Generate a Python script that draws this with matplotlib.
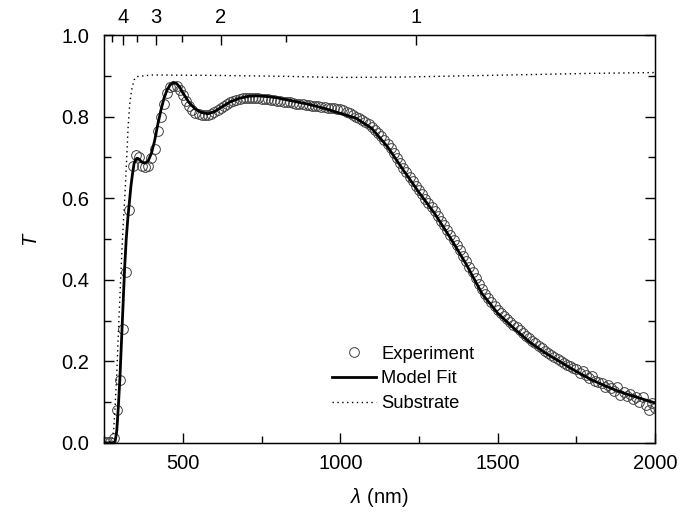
import numpy as np
import matplotlib
matplotlib.use("Agg")
import matplotlib.pyplot as plt
from matplotlib.ticker import MultipleLocator, FormatStrFormatter

plt.rcParams["font.family"] = ["Liberation Sans", "DejaVu Sans"]
plt.rcParams["mathtext.fontset"] = "custom"
plt.rcParams["mathtext.it"] = "Liberation Sans:italic"

# ---------------------------------------------------------------------------
# Data
# ---------------------------------------------------------------------------

# experiment: one point every 10 nm, 250..2000 nm
exp_wl = np.arange(250, 2001, 10)
exp_T = [
    0.003, 0.002, 0.003, 0.012, 0.080, 0.155, 0.280, 0.420, 0.570, 0.680,   # 250-340
    0.705, 0.700, 0.680, 0.676, 0.679, 0.698, 0.720, 0.765, 0.800, 0.830,   # 350-440
    0.857, 0.872, 0.876, 0.874, 0.866, 0.852, 0.838, 0.826, 0.816, 0.810,   # 450-540
    0.806, 0.804, 0.803, 0.804, 0.807, 0.811, 0.816, 0.822, 0.827, 0.831,   # 550-640
    0.835, 0.838, 0.841, 0.843, 0.845, 0.846, 0.846, 0.846, 0.846, 0.845,   # 650-740
    0.844, 0.843, 0.842, 0.841, 0.840, 0.839, 0.838, 0.837, 0.836, 0.835,   # 750-840
    0.833, 0.832, 0.831, 0.830, 0.829, 0.828, 0.827, 0.826, 0.825, 0.824,   # 850-940
    0.823, 0.822, 0.821, 0.820, 0.819, 0.818, 0.815, 0.812, 0.809, 0.805,   # 950-1040
    0.800, 0.797, 0.792, 0.787, 0.781, 0.775, 0.767, 0.759, 0.752, 0.743,   # 1050-1140
    0.733, 0.722, 0.710, 0.699, 0.687, 0.675, 0.664, 0.653, 0.642, 0.631,   # 1150-1240
    0.620, 0.610, 0.599, 0.589, 0.578, 0.568, 0.557, 0.545, 0.534, 0.522,   # 1250-1340
    0.510, 0.498, 0.485, 0.472, 0.459, 0.446, 0.432, 0.418, 0.404, 0.390,   # 1350-1440
    0.377, 0.366, 0.355, 0.345, 0.336, 0.327, 0.319, 0.311, 0.304, 0.297,   # 1450-1540
    0.290, 0.283, 0.276, 0.269, 0.262, 0.256, 0.250, 0.244, 0.238, 0.232,   # 1550-1640
    0.226, 0.221, 0.216, 0.211, 0.206, 0.201, 0.197, 0.192, 0.188, 0.183,   # 1650-1740
    0.180, 0.172, 0.176, 0.166, 0.160, 0.163, 0.152, 0.150, 0.147, 0.138,   # 1750-1840
    0.142, 0.134, 0.128, 0.136, 0.118, 0.125, 0.115, 0.120, 0.108, 0.113,   # 1850-1940
    0.100, 0.112, 0.092, 0.080, 0.098, 0.085,                               # 1950-2000
]

fit_wl = [250, 280, 285, 290, 295, 300, 305, 310, 315, 320, 325, 330, 335, 340,
          345, 350, 355, 360, 370, 380, 390, 400, 410, 420, 430, 440, 450, 460,
          470, 480, 490, 500, 520, 540, 560, 580, 600, 620, 650, 680, 710, 740,
          770, 800, 850, 900, 950, 1000, 1050, 1100, 1150, 1200, 1250, 1300,
          1350, 1400, 1450, 1500, 1550, 1600, 1650, 1700, 1750, 1800, 1850,
          1900, 1950, 2000]
fit_T = [0.0, 0.0, 0.005, 0.030, 0.090, 0.160, 0.250, 0.340, 0.430, 0.500,
         0.550, 0.590, 0.630, 0.660, 0.685, 0.695, 0.698, 0.696, 0.688, 0.686,
         0.692, 0.710, 0.740, 0.780, 0.815, 0.845, 0.866, 0.878, 0.883, 0.881,
         0.872, 0.858, 0.834, 0.818, 0.810, 0.807, 0.812, 0.822, 0.836, 0.845,
         0.850, 0.851, 0.849, 0.846, 0.838, 0.830, 0.820, 0.808, 0.796, 0.771,
         0.726, 0.669, 0.614, 0.562, 0.502, 0.438, 0.366, 0.318, 0.282, 0.248,
         0.221, 0.198, 0.175, 0.154, 0.137, 0.122, 0.110, 0.098]

sub_wl = [250, 270, 275, 280, 284, 290, 295, 300, 305, 310, 316, 321, 326, 331,
          337, 345, 353, 400, 600, 800, 1000, 1200, 1400, 1600, 1800, 2000]
sub_T = [0.0, 0.003, 0.010, 0.030, 0.080, 0.170, 0.270, 0.360, 0.450, 0.530,
         0.610, 0.690, 0.775, 0.830, 0.865, 0.890, 0.898, 0.902, 0.901, 0.899,
         0.896, 0.897, 0.900, 0.903, 0.906, 0.908]

# top axis: photon energy (eV)
energy_major = [1, 2, 3, 4]
energy_minor = [1.5, 2.5, 3.5, 4.5]

# ---------------------------------------------------------------------------
# Plot
# ---------------------------------------------------------------------------

fig = plt.figure(figsize=(6.81, 5.15), dpi=100)
ax = fig.add_axes([0.153, 0.140, 0.809, 0.792])

ax.plot(exp_wl, exp_T, linestyle="none", marker="o", markersize=7,
        markerfacecolor="none", markeredgecolor="#404040", markeredgewidth=0.7,
        label="Experiment")
ax.plot(fit_wl, fit_T, color="black", linewidth=2.0, label="Model Fit")
ax.plot(sub_wl, sub_T, color="black", linewidth=1.0, linestyle=(0, (1, 2.5)),
        label="Substrate")

ax.set_xlim(250, 2000)
ax.set_ylim(0, 1.0)
ax.xaxis.set_major_locator(MultipleLocator(500))
ax.xaxis.set_minor_locator(MultipleLocator(250))
ax.yaxis.set_major_locator(MultipleLocator(0.2))
ax.yaxis.set_minor_locator(MultipleLocator(0.1))
ax.yaxis.set_major_formatter(FormatStrFormatter("%.1f"))
ax.tick_params(which="both", direction="in", right=True, labelsize=14.5, width=1.0)
ax.tick_params(which="major", length=7)
ax.tick_params(which="minor", length=5)
ax.tick_params(axis="x", which="major", pad=8)
ax.tick_params(axis="y", which="major", pad=11)
for s in ax.spines.values():
    s.set_linewidth(1.0)

ax.set_xlabel(r"$\it{\lambda}$ (nm)", fontsize=14.5, labelpad=9)
ax.set_ylabel(r"$\it{T}$", fontsize=14.5, labelpad=14)

ax2 = ax.twiny()
ax2.set_xlim(ax.get_xlim())
ax2.set_xticks([1240.0 / e for e in energy_major])
ax2.set_xticklabels([str(e) for e in energy_major])
ax2.set_xticks([1240.0 / e for e in energy_minor], minor=True)
ax2.tick_params(which="both", direction="in", labelsize=14.5, width=1.0)
ax2.tick_params(which="major", length=7, pad=6)
ax2.tick_params(which="minor", length=5)

ax.legend(loc="upper left", bbox_to_anchor=(0.39, 0.27), frameon=False,
          fontsize=13.2, handlelength=2.4, handletextpad=0.3, labelspacing=0.42,
          borderpad=0.2)

fig.savefig("out.png", dpi=100)
